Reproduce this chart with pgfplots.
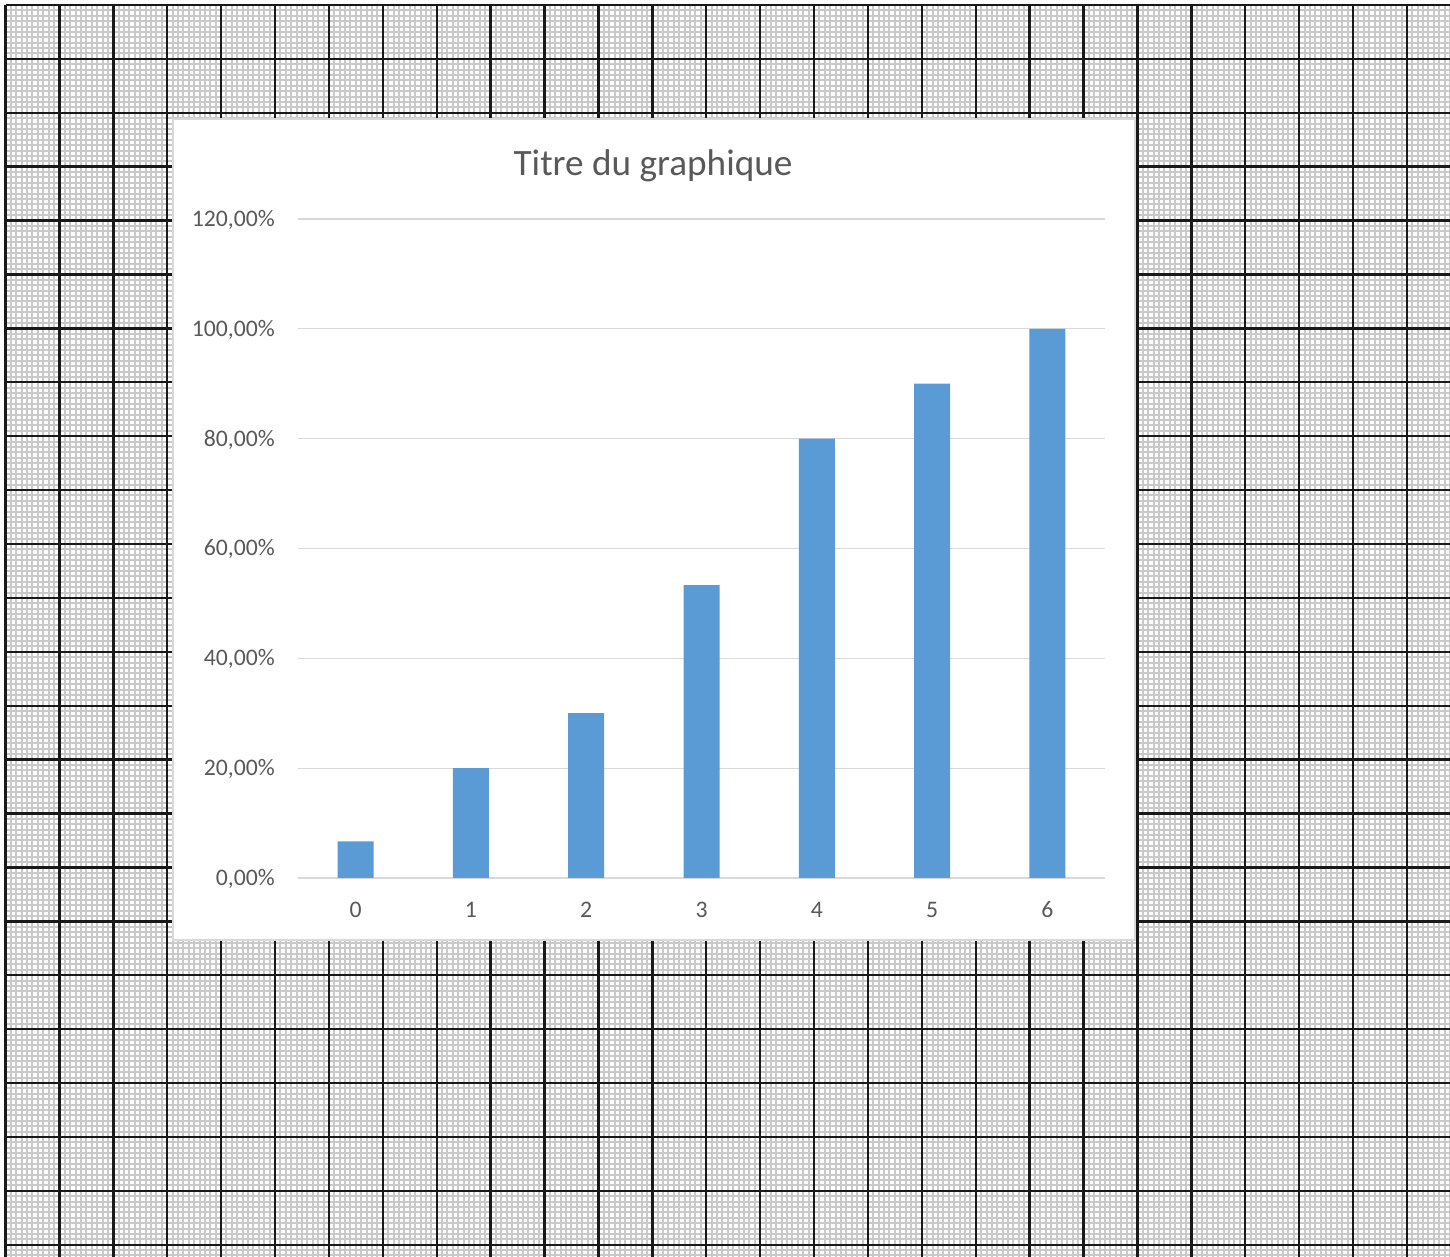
\documentclass[border=0pt]{standalone}
\usepackage{fontspec}
\setmainfont{Carlito}
\usepackage{pgfplots}
\pgfplotsset{compat=1.18}
\definecolor{barblue}{HTML}{5B9BD5}
\definecolor{gridgrey}{HTML}{D9D9D9}
\definecolor{labelgrey}{HTML}{595959}
\definecolor{paperminor}{gray}{0.79}
\definecolor{papermajor}{gray}{0.1}

\begin{document}
\begin{tikzpicture}
% graph paper sheet and the white chart card
\begin{scope}[x=1bp,y=1bp]
  \useasboundingbox (0,0) rectangle (1450,1256);
  \fill[white] (0,0) rectangle (1450,1256);
  \begin{scope}
    \clip (4.2,0) rectangle (1450,1252.3);
    \begin{scope}[shift={(5.5,1251)}]
      \draw[paperminor, line width=2bp, step=5.39bp] (0,-1260) grid (1450,0);
      \draw[papermajor, line width=2.4bp, step=53.9bp] (0,-1260) grid (1450,0);
    \end{scope}
  \end{scope}
  \filldraw[fill=white, draw=gridgrey, line width=1.5bp] (173,316) rectangle (1135,1137);
  \node[anchor=base, inner sep=0pt, text=labelgrey,
        font=\fontsize{37.2bp}{44bp}\selectfont] at (653,1080) {Titre du graphique};
\end{scope}

\begin{axis}[
  at={(298bp,378bp)}, anchor=south west,
  scale only axis, width=807bp, height=659bp,
  xmin=-0.5, xmax=6.5, ymin=0, ymax=120,
  axis line style={draw=none}, major tick length=0pt,
  xtick={0,...,6}, xticklabels={0,1,2,3,4,5,6},
  ytick={0,20,...,120},
  yticklabels={{0,00\%},{20,00\%},{40,00\%},{60,00\%},{80,00\%},{100,00\%},{120,00\%}},
  ymajorgrids, grid style={gridgrey, line width=1.3bp},
  tick label style={font=\fontsize{23.7bp}{28bp}\selectfont, text=labelgrey, inner sep=0pt},
  xticklabel style={anchor=base, yshift=-40bp},
  yticklabel style={anchor=base east, xshift=-23bp, yshift=-7.5bp},
  /pgf/number format/assume math mode=true,
  ybar, bar width=36bp,
  clip=false,
]
\addplot[fill=barblue, draw=none] coordinates {
  (0,6.67) (1,20) (2,30) (3,53.33) (4,80) (5,90) (6,100)
};
\end{axis}
\end{tikzpicture}
\end{document}
